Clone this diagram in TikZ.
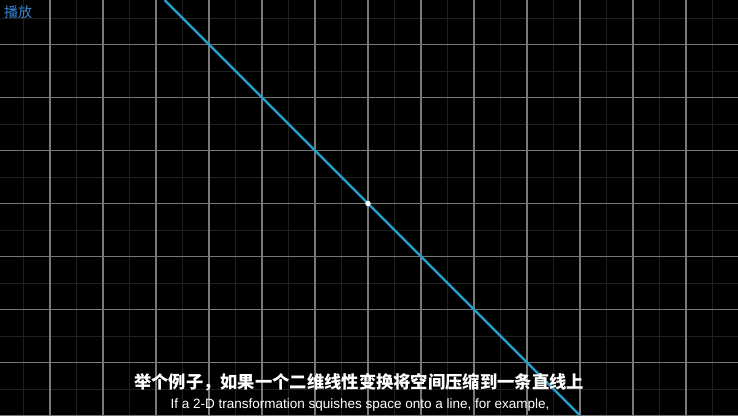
\documentclass[tikz,border=0pt]{standalone}
\usepackage{fontspec}
\setmainfont{Liberation Sans}
\newfontfamily\cjk{Noto Sans CJK SC}
\definecolor{gridmajor}{RGB}{120,120,120}
\definecolor{gridminor}{RGB}{32,32,32}
\definecolor{lineblue}{RGB}{38,160,210}
\definecolor{tagblue}{RGB}{55,135,210}

\begin{document}
\begin{tikzpicture}[
    x=1pt, y=-1pt,
    minor/.style={gridminor, line width=1pt},
    major/.style={gridmajor, line width=1.3pt},
    squish/.style={lineblue, line width=2.4pt},
    subzh/.style={font=\cjk\bfseries\fontsize{17.3}{17.3}\selectfont, text=white, inner sep=0pt},
    suben/.style={font=\fontsize{13.5}{13.5}\selectfont, text=white, inner sep=0pt}
]
\fill[black] (0,0) rectangle (738,415);
\useasboundingbox (0,0) rectangle (738,415);
% grid
\foreach \k in {-8,...,7} {
    \draw[minor] (368+26.5+53*\k,0) -- (368+26.5+53*\k,415);
    \draw[minor] (0,203.5+26.5+53*\k) -- (738,203.5+26.5+53*\k);
}
\foreach \k in {-7,...,7} {
    \draw[major] (368+53*\k,0) -- (368+53*\k,415);
    \draw[major] (0,203.5+53*\k) -- (738,203.5+53*\k);
}
% the line
\coordinate (top) at (164.5,0);
\coordinate (bottom) at (579.5,415);
\draw[squish] (top) -- (bottom);
\node[circle, fill=white, inner sep=0pt, minimum size=5.5pt] (origin) at (368,203.5) {};
% labels
\node[anchor=west, text=tagblue, font=\cjk\fontsize{14}{14}\selectfont, inner sep=0pt] (play) at (4,12) {播放};
\node[subzh] (zh) at (359,382) {举个例子，如果一个二维线性变换将空间压缩到一条直线上};
\node[suben] (en) at (360,405.5) {If a 2-D transformation squishes space onto a line, for example,};
\end{tikzpicture}
\end{document}
